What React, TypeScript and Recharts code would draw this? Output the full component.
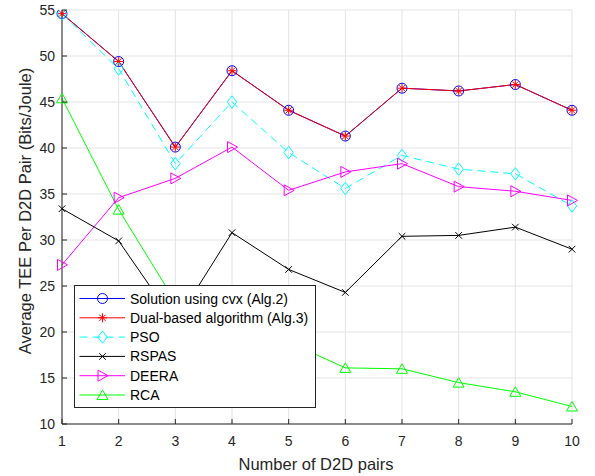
import React from 'react';
import { LineChart, Line, XAxis, YAxis, CartesianGrid, Legend } from 'recharts';

const pairs = [1, 2, 3, 4, 5, 6, 7, 8, 9, 10];
const cvx = [54.6, 49.4, 40.1, 48.4, 44.1, 41.3, 46.5, 46.2, 46.9, 44.1];
const dual = [54.6, 49.4, 40.1, 48.4, 44.1, 41.3, 46.5, 46.2, 46.9, 44.1];
const pso = [54.6, 48.6, 38.3, 45.0, 39.5, 35.6, 39.2, 37.7, 37.2, 33.7];
const rspas = [33.4, 29.9, 21.0, 30.8, 26.8, 24.3, 30.4, 30.5, 31.4, 29.0];
const deera = [27.3, 34.6, 36.7, 40.1, 35.4, 37.4, 38.3, 35.8, 35.3, 34.3];
const rca = [45.4, 33.3, 23.3, 21.0, 18.9, 16.1, 16.0, 14.5, 13.5, 11.9];
const xTicks = [1, 2, 3, 4, 5, 6, 7, 8, 9, 10];
const yTicks = [10, 15, 20, 25, 30, 35, 40, 45, 50, 55];

const data = pairs.map((x, i) => ({
  x,
  cvx: cvx[i],
  dual: dual[i],
  pso: pso[i],
  rspas: rspas[i],
  deera: deera[i],
  rca: rca[i],
}));

const FONT = '"Liberation Sans", Arial, Helvetica, sans-serif';
const AX = '#262626';

type Shape = 'circle' | 'star' | 'diamond' | 'x' | 'right' | 'up';

const marker = (shape: Shape, cx: number, cy: number, color: string, key?: any) => {
  const common = { stroke: color, strokeWidth: 1, fill: 'none' } as any;
  switch (shape) {
    case 'circle':
      return <circle key={key} cx={cx} cy={cy} r={5} {...common} />;
    case 'star': {
      const s = 4.5;
      const d = s * 0.7;
      return (
        <g key={key} {...common}>
          <line x1={cx - s} y1={cy} x2={cx + s} y2={cy} />
          <line x1={cx} y1={cy - s} x2={cx} y2={cy + s} />
          <line x1={cx - d} y1={cy - d} x2={cx + d} y2={cy + d} />
          <line x1={cx - d} y1={cy + d} x2={cx + d} y2={cy - d} />
        </g>
      );
    }
    case 'diamond':
      return (
        <polygon
          key={key}
          points={`${cx},${cy - 6.2} ${cx + 4.7},${cy} ${cx},${cy + 6.2} ${cx - 4.7},${cy}`}
          {...common}
        />
      );
    case 'x': {
      const s = 3.3;
      return (
        <g key={key} {...common}>
          <line x1={cx - s} y1={cy - s} x2={cx + s} y2={cy + s} />
          <line x1={cx - s} y1={cy + s} x2={cx + s} y2={cy - s} />
        </g>
      );
    }
    case 'right':
      return (
        <polygon
          key={key}
          points={`${cx - 4.5},${cy - 5.5} ${cx + 5.5},${cy} ${cx - 4.5},${cy + 5.5}`}
          {...common}
        />
      );
    case 'up':
      return (
        <polygon
          key={key}
          points={`${cx},${cy - 5} ${cx + 5.5},${cy + 4.5} ${cx - 5.5},${cy + 4.5}`}
          {...common}
        />
      );
  }
  return null;
};

const dotFn = (shape: Shape, color: string) => (props: any) => {
  const { cx, cy, index } = props;
  if (cx == null || cy == null) return <g key={`d-${index}`} />;
  return marker(shape, cx, cy, color, `${shape}-${index}`);
};

const series = [
  { key: 'cvx', name: 'Solution using cvx (Alg.2)', color: '#0000ff', shape: 'circle' as Shape, dash: undefined },
  { key: 'dual', name: 'Dual-based algorithm (Alg.3)', color: '#ff0000', shape: 'star' as Shape, dash: undefined },
  { key: 'pso', name: 'PSO', color: '#00ffff', shape: 'diamond' as Shape, dash: '8 5' },
  { key: 'rspas', name: 'RSPAS', color: '#000000', shape: 'x' as Shape, dash: undefined },
  { key: 'deera', name: 'DEERA', color: '#ff00ff', shape: 'right' as Shape, dash: undefined },
  { key: 'rca', name: 'RCA', color: '#00ff00', shape: 'up' as Shape, dash: undefined },
];

const BottomTick = (props: any) => {
  const { x, y, payload } = props;
  return (
    <g>
      <line x1={x} y1={y} x2={x} y2={y - 5} stroke={AX} strokeWidth={1} />
      <text x={x} y={y + 22} textAnchor="middle" fontFamily={FONT} fontSize={14} fill={AX}>
        {payload.value}
      </text>
    </g>
  );
};
const TopTick = (props: any) => {
  const { x, y } = props;
  return <line x1={x} y1={y} x2={x} y2={y + 5} stroke={AX} strokeWidth={1} />;
};
const LeftTick = (props: any) => {
  const { x, y, payload } = props;
  return (
    <g>
      <line x1={x} y1={y} x2={x + 5} y2={y} stroke={AX} strokeWidth={1} />
      <text x={x - 7} y={y + 5} textAnchor="end" fontFamily={FONT} fontSize={14} fill={AX}>
        {payload.value}
      </text>
    </g>
  );
};
const RightTick = (props: any) => {
  const { x, y } = props;
  return <line x1={x} y1={y} x2={x - 5} y2={y} stroke={AX} strokeWidth={1} />;
};

const YLabel = (props: any) => {
  const vb = props.viewBox || { x: 0, y: 10, width: 62, height: 414 };
  const cx = 31;
  const cy = vb.y + vb.height / 2 - 6;
  return (
    <text
      x={cx}
      y={cy}
      transform={`rotate(-90 ${cx} ${cy})`}
      textAnchor="middle"
      fontFamily={FONT}
      fontSize={16.5}
      fill={AX}
    >
      Average TEE Per D2D Pair (Bits/Joule)
    </text>
  );
};

const XLabel = (props: any) => {
  const vb = props.viewBox || { x: 62, y: 424, width: 510, height: 52 };
  return (
    <text x={vb.x + vb.width / 2 - 1} y={469.5} textAnchor="middle" fontFamily={FONT} fontSize={16.5} fill={AX}>
      Number of D2D pairs
    </text>
  );
};

const LegendBox = () => {
  const w = 241;
  const h = 122;
  return (
    <svg width={w + 1} height={h + 1} style={{ display: 'block' }}>
      <rect x={0.5} y={0.5} width={w} height={h} fill="#ffffff" stroke={AX} strokeWidth={1} />
      {series.map((s, i) => {
        const cy = 13.5 + i * 19.3;
        return (
          <g key={s.key}>
            <line x1={5.5} y1={cy} x2={51} y2={cy} stroke={s.color} strokeWidth={1} strokeDasharray={s.dash} />
            {marker(s.shape, 28.5, cy, s.color)}
            <text x={56} y={cy + 5} fontFamily={FONT} fontSize={14} fill="#000">
              {s.name}
            </text>
          </g>
        );
      })}
    </svg>
  );
};

export default function App() {
  return (
    <div style={{ position: 'absolute', left: 0, top: 0, background: '#fff' }}>
      <LineChart width={595} height={476} data={data} margin={{ top: 10, right: 23, bottom: 0, left: 0 }}>
        <CartesianGrid stroke="#e3e3e3" strokeWidth={1} />
        <XAxis
          dataKey="x"
          type="number"
          domain={[1, 10]}
          ticks={xTicks}
          height={52}
          tickSize={0}
          tickMargin={0}
          tickLine={false}
          axisLine={{ stroke: AX }}
          tick={<BottomTick />}
          interval={0}
          label={<XLabel />}
        />
        <XAxis
          xAxisId="top"
          orientation="top"
          dataKey="x"
          type="number"
          domain={[1, 10]}
          ticks={xTicks}
          height={0}
          tickSize={0}
          tickMargin={0}
          tickLine={false}
          axisLine={{ stroke: AX }}
          tick={<TopTick />}
          interval={0}
        />
        <YAxis
          type="number"
          domain={[10, 55]}
          ticks={yTicks}
          width={62}
          tickSize={0}
          tickMargin={0}
          tickLine={false}
          axisLine={{ stroke: AX }}
          tick={<LeftTick />}
          interval={0}
          allowDataOverflow
          label={<YLabel />}
        />
        <YAxis
          yAxisId="right"
          orientation="right"
          type="number"
          domain={[10, 55]}
          ticks={yTicks}
          width={0}
          tickSize={0}
          tickMargin={0}
          tickLine={false}
          axisLine={{ stroke: AX }}
          tick={<RightTick />}
          interval={0}
        />
        {series.map((s) => (
          <Line
            key={s.key}
            dataKey={s.key}
            name={s.name}
            type="linear"
            stroke={s.color}
            strokeWidth={1}
            strokeDasharray={s.dash}
            dot={dotFn(s.shape, s.color)}
            activeDot={false}
            isAnimationActive={false}
          />
        ))}
        <Legend
          layout="horizontal"
          verticalAlign="middle"
          align="center"
          content={<LegendBox />}
          wrapperStyle={{ left: 74, top: 285, width: 242, height: 123 }}
        />
      </LineChart>
    </div>
  );
}
